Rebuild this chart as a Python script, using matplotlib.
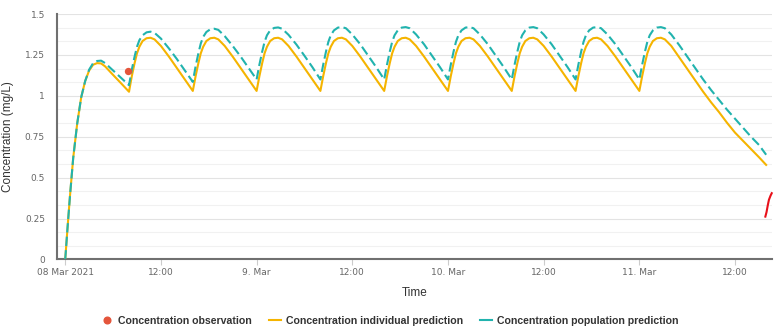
import numpy as np
import matplotlib.pyplot as plt
from matplotlib.lines import Line2D
from matplotlib.ticker import MultipleLocator

# Zeit in Stunden ab 08 Mar 2021 00:00
zeit = [0, 0.3, 0.6, 1.0, 1.5, 2.0, 2.5, 3.0, 3.5, 4.0, 4.5, 5.0, 6.0, 7.0,
        8, 8.35, 8.7, 9.0, 9.3, 9.7, 10.2, 10.7, 11.2, 12, 13, 14, 15,
        16, 16.35, 16.7, 17.0, 17.3, 17.7, 18.2, 18.7, 19.2, 20, 21, 22, 23,
        24, 24.35, 24.7, 25.0, 25.3, 25.7, 26.2, 26.7, 27.2, 28, 29, 30, 31,
        32, 32.35, 32.7, 33.0, 33.3, 33.7, 34.2, 34.7, 35.2, 36, 37, 38, 39,
        40, 40.35, 40.7, 41.0, 41.3, 41.7, 42.2, 42.7, 43.2, 44, 45, 46, 47,
        48, 48.35, 48.7, 49.0, 49.3, 49.7, 50.2, 50.7, 51.2, 52, 53, 54, 55,
        56, 56.35, 56.7, 57.0, 57.3, 57.7, 58.2, 58.7, 59.2, 60, 61, 62, 63,
        64, 64.35, 64.7, 65.0, 65.3, 65.7, 66.2, 66.7, 67.2, 68, 69, 70, 71,
        72, 72.35, 72.7, 73.0, 73.3, 73.7, 74.2, 74.7, 75.2, 76, 77, 78, 79,
        80, 81, 82, 83, 84, 85, 86, 87, 87.9]

individuell = [0, 0.2, 0.39, 0.62, 0.83, 0.99, 1.09, 1.155, 1.19, 1.20, 1.198, 1.18, 1.128, 1.077,
               1.025, 1.12, 1.20, 1.26, 1.30, 1.335, 1.352, 1.355, 1.345, 1.305, 1.24, 1.17, 1.10,
               1.03, 1.12, 1.20, 1.26, 1.30, 1.335, 1.352, 1.355, 1.345, 1.305, 1.24, 1.17, 1.10,
               1.03, 1.12, 1.20, 1.26, 1.30, 1.335, 1.352, 1.355, 1.345, 1.305, 1.24, 1.17, 1.10,
               1.03, 1.12, 1.20, 1.26, 1.30, 1.335, 1.352, 1.355, 1.345, 1.305, 1.24, 1.17, 1.10,
               1.03, 1.12, 1.20, 1.26, 1.30, 1.335, 1.352, 1.355, 1.345, 1.305, 1.24, 1.17, 1.10,
               1.03, 1.12, 1.20, 1.26, 1.30, 1.335, 1.352, 1.355, 1.345, 1.305, 1.24, 1.17, 1.10,
               1.03, 1.12, 1.20, 1.26, 1.30, 1.335, 1.352, 1.355, 1.345, 1.305, 1.24, 1.17, 1.10,
               1.03, 1.12, 1.20, 1.26, 1.30, 1.335, 1.352, 1.355, 1.345, 1.305, 1.24, 1.17, 1.10,
               1.03, 1.12, 1.20, 1.26, 1.30, 1.335, 1.352, 1.355, 1.345, 1.305, 1.235, 1.165, 1.095,
               1.025, 0.96, 0.90, 0.835, 0.775, 0.725, 0.675, 0.625, 0.578]

population = [0, 0.2, 0.39, 0.62, 0.83, 0.99, 1.09, 1.16, 1.20, 1.213, 1.215, 1.20, 1.155, 1.11,
              1.065, 1.16, 1.24, 1.30, 1.34, 1.37, 1.388, 1.392, 1.385, 1.35, 1.29, 1.225, 1.155,
              1.085, 1.18, 1.26, 1.32, 1.36, 1.39, 1.407, 1.41, 1.403, 1.365, 1.305, 1.24, 1.17,
              1.10, 1.19, 1.27, 1.33, 1.37, 1.40, 1.415, 1.418, 1.41, 1.373, 1.313, 1.245, 1.175,
              1.10, 1.19, 1.27, 1.33, 1.37, 1.40, 1.417, 1.42, 1.413, 1.375, 1.315, 1.245, 1.175,
              1.10, 1.19, 1.27, 1.33, 1.37, 1.40, 1.417, 1.42, 1.413, 1.375, 1.315, 1.245, 1.175,
              1.10, 1.19, 1.27, 1.33, 1.37, 1.40, 1.417, 1.42, 1.413, 1.375, 1.315, 1.245, 1.175,
              1.10, 1.19, 1.27, 1.33, 1.37, 1.40, 1.417, 1.42, 1.413, 1.375, 1.315, 1.245, 1.175,
              1.10, 1.19, 1.27, 1.33, 1.37, 1.40, 1.417, 1.42, 1.413, 1.375, 1.315, 1.245, 1.175,
              1.10, 1.19, 1.27, 1.33, 1.37, 1.40, 1.417, 1.42, 1.413, 1.375, 1.31, 1.24, 1.17,
              1.10, 1.035, 0.975, 0.915, 0.86, 0.805, 0.75, 0.70, 0.64]

beob_zeit = [7.9]
beob_wert = [1.15]

rot_zeit = [87.8, 87.95, 88.1, 88.25, 88.45, 88.6]
rot_wert = [0.262, 0.29, 0.33, 0.365, 0.39, 0.405]

x_ticks = [0, 12, 24, 36, 48, 60, 72, 84]
x_labels = ["08 Mar 2021", "12:00", "9. Mar", "12:00", "10. Mar", "12:00", "11. Mar", "12:00"]
y_ticks = [0, 0.25, 0.5, 0.75, 1, 1.25, 1.5]
y_labels = ["0", "0.25", "0.5", "0.75", "1", "1.25", "1.5"]

GELB = "#f5b400"
TUERKIS = "#21b3ae"
ROT = "#e4553b"

plt.rcParams['font.family'] = ['DejaVu Sans']

fig = plt.figure(figsize=(7.8, 3.36), dpi=100)
ax = fig.add_axes([0.0737, 0.2277, 0.9157, 0.7306])

ax.plot(zeit, individuell, color=GELB, lw=1.5, zorder=3)
ax.plot(zeit, population, color=TUERKIS, lw=1.5, dashes=(4.5, 2.0), zorder=4)
ax.plot(rot_zeit, rot_wert, color="#e8101a", lw=1.5, zorder=4, clip_on=False)
ax.scatter(beob_zeit, beob_wert, s=28, color=ROT, zorder=5, linewidths=0)

ax.set_xlim(-0.97, 88.6)
ax.set_ylim(0, 1.5)

ax.set_xticks(x_ticks)
ax.set_xticklabels(x_labels)
ax.set_yticks(y_ticks)
ax.set_yticklabels(y_labels)
ax.yaxis.set_minor_locator(MultipleLocator(0.25 / 3))

ax.tick_params(axis='x', colors="#cccccc", length=4, width=0.8, labelsize=6.5, labelcolor="#666666", pad=2)
ax.tick_params(axis='y', length=0, labelsize=6.5, labelcolor="#666666", pad=9)
ax.tick_params(axis='y', which='minor', length=0)

ax.grid(axis='y', which='major', color="#e3e3e3", lw=0.8, zorder=0)
ax.grid(axis='y', which='minor', color="#f1f1f1", lw=0.8, zorder=0)
ax.set_axisbelow(True)

for s in ['top', 'right']:
    ax.spines[s].set_visible(False)
for s in ['left', 'bottom']:
    ax.spines[s].set_color("#707070")
    ax.spines[s].set_linewidth(1.5)

ax.set_xlabel("Time", fontsize=8.5, color="#333333", family="Liberation Sans", labelpad=7)
ax.set_ylabel("Concentration (mg/L)", fontsize=8.5, color="#333333", family="Liberation Sans", labelpad=8)

handles = [
    Line2D([], [], marker='o', color=ROT, lw=0, markersize=4.8),
    Line2D([], [], color=GELB, lw=1.5),
    Line2D([], [], color=TUERKIS, lw=1.5),
]
labels = ["Concentration observation", "Concentration individual prediction",
          "Concentration population prediction"]
fig.legend(handles, labels, loc='center', bbox_to_anchor=(0.5, 0.045), ncol=3, frameon=False,
           prop={'family': 'Liberation Sans', 'weight': 'bold', 'size': 7.6},
           handlelength=1.1, handletextpad=0.5, columnspacing=1.6, labelcolor="#333333")

fig.savefig("out.png", dpi=100, facecolor="white")
